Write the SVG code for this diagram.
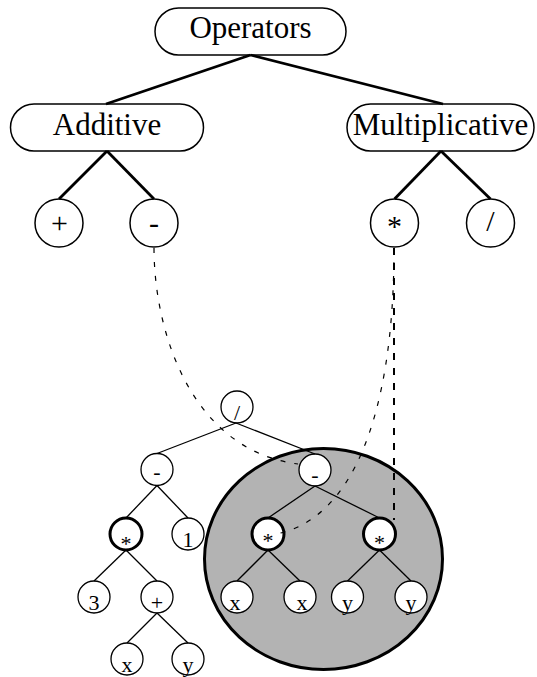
<svg xmlns="http://www.w3.org/2000/svg" width="537" height="677" viewBox="0 0 537 677">
  <style>
    text { font-family: "Liberation Serif", "Times New Roman", serif; fill: #000; text-anchor: middle; }
    .cat { fill: #fff; stroke: #000; stroke-width: 1.5; }
    .op { fill: #fff; stroke: #000; stroke-width: 1.5; }
    .big { font-size: 31px; }
    .sym { font-size: 30px; }
    .en { fill: #fff; stroke: #000; stroke-width: 1.3; }
    .en.bold { stroke-width: 3; }
    .el { font-size: 22px; }
    .thick { stroke: #000; stroke-width: 2.8; fill: none; }
    .thin { stroke: #000; stroke-width: 1.3; fill: none; }
    .map { stroke: #000; stroke-width: 1.2; fill: none; stroke-dasharray: 5 9; }
    .map-v { stroke: #000; stroke-width: 2; fill: none; stroke-dasharray: 7 8; }
  </style>

  <!-- shaded sub-expression region -->
  <g id="subtree-highlight">
    <ellipse cx="323.5" cy="559" rx="119" ry="110.5" fill="#b3b3b3" stroke="#000" stroke-width="3"/>
  </g>

  <!-- operator hierarchy -->
  <g id="node-operators">
    <rect class="cat" x="155" y="8" width="191" height="47" rx="23.5"/>
    <text class="big" x="250.5" y="37.5">Operators</text>
  </g>
  <g id="node-additive">
    <rect class="cat" x="10.5" y="104" width="193" height="47" rx="23.5"/>
    <text class="big" x="107" y="135">Additive</text>
  </g>
  <g id="node-multiplicative">
    <rect class="cat" x="347" y="104" width="187" height="47" rx="23.5"/>
    <text class="big" x="440.5" y="135">Multiplicative</text>
  </g>
  <g id="node-plus">
    <circle class="op" cx="59" cy="223" r="24"/>
    <text class="sym" x="59.5" y="233">+</text>
  </g>
  <g id="node-minus">
    <circle class="op" cx="154" cy="223" r="24"/>
    <text class="sym" x="154" y="233">-</text>
  </g>
  <g id="node-times">
    <circle class="op" cx="394.5" cy="223" r="24"/>
    <text class="sym" x="394.5" y="236">*</text>
  </g>
  <g id="node-divide">
    <circle class="op" cx="490.5" cy="223" r="24"/>
    <text class="sym" x="490.5" y="231">/</text>
  </g>

  <!-- expression tree -->
  <g id="expr-div">
    <circle class="en" cx="237" cy="407" r="16"/>
    <text class="el" x="237" y="420">/</text>
  </g>
  <g id="expr-sub-left">
    <circle class="en" cx="157" cy="469.5" r="16"/>
    <text class="el" x="157" y="479">-</text>
  </g>
  <g id="expr-mul-left">
    <circle class="en bold" cx="126" cy="534" r="16"/>
    <text class="el" x="126" y="551">*</text>
  </g>
  <g id="expr-one">
    <circle class="en" cx="188" cy="534" r="16"/>
    <text class="el" x="188" y="547">1</text>
  </g>
  <g id="expr-three">
    <circle class="en" cx="94" cy="597" r="16"/>
    <text class="el" x="94" y="610">3</text>
  </g>
  <g id="expr-add">
    <circle class="en" cx="157" cy="597" r="16"/>
    <text class="el" x="157" y="610">+</text>
  </g>
  <g id="expr-x-left">
    <circle class="en" cx="127" cy="659" r="16"/>
    <text class="el" x="127" y="672">x</text>
  </g>
  <g id="expr-y-left">
    <circle class="en" cx="188" cy="659" r="16"/>
    <text class="el" x="188" y="672">y</text>
  </g>
  <g id="expr-sub-right">
    <circle class="en" cx="315" cy="470" r="16"/>
    <text class="el" x="315" y="482">-</text>
  </g>
  <g id="expr-mul-a">
    <circle class="en bold" cx="268" cy="534" r="16"/>
    <text class="el" x="268" y="548">*</text>
  </g>
  <g id="expr-mul-b">
    <circle class="en bold" cx="379.5" cy="534" r="16"/>
    <text class="el" x="379.5" y="550">*</text>
  </g>
  <g id="expr-x-a">
    <circle class="en" cx="237" cy="597" r="16"/>
    <text class="el" x="235" y="610">x</text>
  </g>
  <g id="expr-x-b">
    <circle class="en" cx="300" cy="597" r="16"/>
    <text class="el" x="302" y="610">x</text>
  </g>
  <g id="expr-y-a">
    <circle class="en" cx="347.5" cy="597" r="16"/>
    <text class="el" x="347.5" y="610">y</text>
  </g>
  <g id="expr-y-b">
    <circle class="en" cx="411" cy="597" r="16"/>
    <text class="el" x="411" y="610">y</text>
  </g>

  <g id="connectors">
    <!-- hierarchy edges -->
    <line class="thick" x1="250.5" y1="55" x2="106" y2="104"/>
    <line class="thick" x1="250.5" y1="55" x2="443" y2="104"/>
    <line class="thick" x1="107" y1="151" x2="59" y2="199"/>
    <line class="thick" x1="107" y1="151" x2="154" y2="199"/>
    <line class="thick" x1="441" y1="151" x2="394.5" y2="199"/>
    <line class="thick" x1="441" y1="151" x2="490.5" y2="199"/>

    <!-- expression edges -->
    <line class="thin" x1="236" y1="423" x2="157" y2="453.5"/>
    <line class="thin" x1="236" y1="423" x2="315" y2="454"/>
    <line class="thin" x1="157" y1="485.5" x2="126" y2="518"/>
    <line class="thin" x1="157" y1="485.5" x2="188" y2="518"/>
    <line class="thin" x1="126" y1="550" x2="94" y2="581"/>
    <line class="thin" x1="126" y1="550" x2="157" y2="581"/>
    <line class="thin" x1="157" y1="613" x2="127" y2="643"/>
    <line class="thin" x1="157" y1="613" x2="188" y2="643"/>
    <line class="thin" x1="315" y1="486" x2="268" y2="518"/>
    <line class="thin" x1="315" y1="486" x2="379.5" y2="518"/>
    <line class="thin" x1="268" y1="550" x2="237" y2="581"/>
    <line class="thin" x1="268" y1="550" x2="300" y2="581"/>
    <line class="thin" x1="379.5" y1="550" x2="347.5" y2="581"/>
    <line class="thin" x1="379.5" y1="550" x2="411" y2="581"/>

    <!-- operator-to-occurrence mappings -->
    <path class="map" d="M154,248 C154,330 190,450 298,464"/>
    <path class="map" d="M394,248 C394,420 350,520 276,534"/>
    <line class="map-v" x1="394" y1="248" x2="394" y2="520"/>
  </g>
</svg>
